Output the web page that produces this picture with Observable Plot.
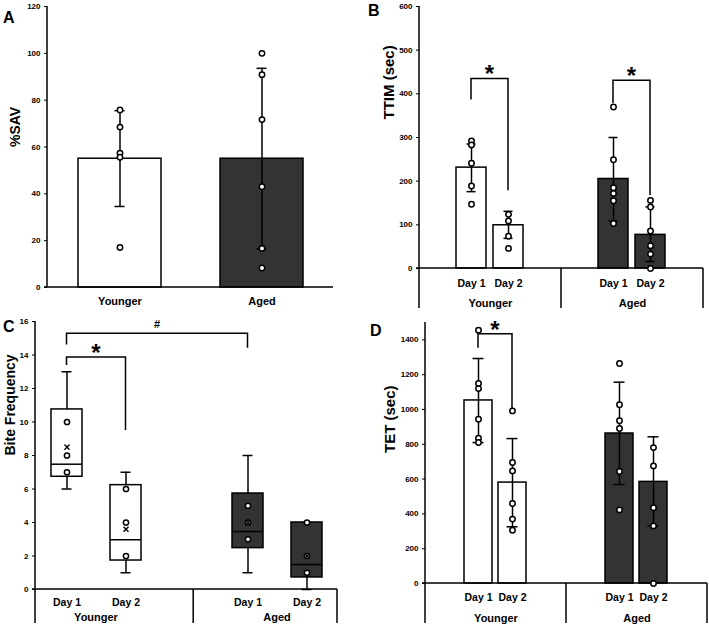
<!DOCTYPE html>
<html>
<head>
<meta charset="utf-8">
<script src="https://cdn.jsdelivr.net/npm/d3@7"></script>
<script src="https://cdn.jsdelivr.net/npm/@observablehq/plot@0.6"></script>
<style>
  body { margin: 0; background: #fff; font-family: "Liberation Sans", Arial, Helvetica, sans-serif; }
  #fig { position: relative; width: 709px; height: 628px; overflow: hidden; background: #fff; }
  .panel { position: absolute; }
  .panel svg { display: block; }
  .letter { position: absolute; font-weight: bold; font-size: 16px; line-height: 1; color: #000; }
</style>
</head>
<body>
<div id="fig"></div>
<script>
// ---------- shared categories ----------
const groups = ["Younger", "Aged"];
const days = ["Day 1", "Day 2"];

// ---------- Panel A: %SAV ----------
const savMean = [55, 55];
const savLow = [34.6, 16.5];
const savHigh = [75.5, 93.6];
const savYounger = [75.8, 68.5, 57.4, 55.6, 17.1];
const savAged = [100, 90.9, 71.7, 43.0, 16.7, 8.3];
const savTicks = [0, 20, 40, 60, 80, 100, 120];

// ---------- Panel B: TTIM (sec) ; order Younger D1, Younger D2, Aged D1, Aged D2 ----------
const ttimMean = [231, 99, 205, 77];
const ttimLow = [176, 69, 109, 16];
const ttimHigh = [285, 131, 300, 141];
const ttimPoints = [
  [292, 283, 241, 189, 147],
  [124, 109, 74, 46],
  [370, 249, 185, 172, 155, 103],
  [156, 141, 86, 52, 33, 0]
];
const ttimTicks = [0, 100, 200, 300, 400, 500, 600];
const ttimBrackets = [
  {from: ["Younger", "Day 1"], to: ["Younger", "Day 2"], leftEnd: 386, top: 434, rightEnd: 178, label: "*"},
  {from: ["Aged", "Day 1"], to: ["Aged", "Day 2"], leftEnd: 378, top: 430, rightEnd: 167, label: "*"}
];

// ---------- Panel C: Bite Frequency (box plots) ----------
const biteMin = [6, 1, 1, 0];
const biteQ1 = [6.73, 1.73, 2.47, 0.72];
const biteMedian = [7.48, 2.97, 3.46, 1.49];
const biteQ3 = [10.75, 6.23, 5.73, 4.0];
const biteMax = [13, 7, 8, 4];
const biteMean = [8.5, 3.6, 4, 2];
const bitePoints = [[10, 8, 7], [6, 4, 2], [5, 4, 3], [4, 2, 1]];
const biteTicks = [0, 2, 4, 6, 8, 10, 12, 14, 16];
const biteBrackets = [
  {from: ["Younger", "Day 1"], to: ["Aged", "Day 1"], leftEnd: 14.6, top: 15.27, rightEnd: 14.4, label: "#"},
  {from: ["Younger", "Day 1"], to: ["Younger", "Day 2"], leftEnd: 13.37, top: 13.85, rightEnd: 9.5, label: "*"}
];

// ---------- Panel D: TET (sec) ----------
const tetMean = [1052, 580, 862, 584];
const tetLow = [810, 326, 569, 331];
const tetHigh = [1293, 833, 1157, 843];
const tetPoints = [
  [1456, 1149, 1120, 944, 835, 810],
  [992, 695, 647, 460, 370, 306],
  [1264, 1027, 935, 891, 644, 423],
  [781, 676, 435, 331, 0]
];
const tetTicks = [0, 200, 400, 600, 800, 1000, 1200, 1400];
const tetBrackets = [
  {from: ["Younger", "Day 1"], to: ["Younger", "Day 2"], leftEnd: 1352, top: 1432, rightEnd: 1000, label: "*"}
];

// ---------- styling ----------
const FONT = '"Liberation Sans", Arial, Helvetica, sans-serif';
const DARK = "#333333";
const labelStyles = {"*": {size: 24, dy: 4}, "#": {size: 11, dy: -5}};

// ---------- helpers ----------
const conds = groups.flatMap(g => days.map(d => ({group: g, day: d})));
const table = (cols) => conds.map((c, i) => {
  const row = {...c};
  for (const [k, arr] of Object.entries(cols)) row[k] = arr[i];
  return row;
});
const pointsOf = (lists) => conds.flatMap((c, i) => lists[i].map(v => ({...c, v})));

// Render-function mark: axis lines, category dividers and significance brackets,
// all positioned through Plot's own x / y / fx scales.
function decor({top, divLen = 0, divFrac = 0.5, brackets = []}) {
  let calls = 0;
  return (index, scales) => {
    const {x, y, fx} = scales;
    const faceted = fx && typeof fx.domain === "function";
    const keys = faceted ? fx.domain() : [null];
    const k = calls++ % keys.length;
    const key = keys[k];
    const shift = f => (faceted && f != null) ? fx(f) - fx(key) : 0;
    const bw = x.bandwidth();
    const cx = (f, c) => x(c) + bw / 2 + shift(f);
    const [L, R] = x.range();
    const gap = faceted ? fx.step() - fx.bandwidth() : 0;
    const left = k === 0 ? L : L - gap * (1 - divFrac);
    const right = k === keys.length - 1 ? R : R + gap * divFrac;
    const y0 = y(0);
    const g = d3.create("svg:g")
      .attr("fill", "none").attr("stroke", "black").attr("stroke-width", 1.5);
    g.append("line").attr("x1", left - (k === 0 ? 3 : 0)).attr("x2", right)
      .attr("y1", y0).attr("y2", y0);
    if (k === 0) {
      g.append("line").attr("x1", L).attr("x2", L)
        .attr("y1", y(top)).attr("y2", y0 + divLen);
    }
    if (divLen > 0) {
      g.append("line").attr("x1", right).attr("x2", right)
        .attr("y1", y0).attr("y2", y0 + divLen);
    }
    for (const b of brackets) {
      if (key !== null && b.from[0] !== key) continue;
      const xa = cx(b.from[0], b.from[1]);
      const xb = cx(b.to[0], b.to[1]);
      g.append("path")
        .attr("d", `M${xa},${y(b.leftEnd)}V${y(b.top)}H${xb}V${y(b.rightEnd)}`);
      const st = labelStyles[b.label];
      g.append("text")
        .attr("x", (xa + xb) / 2).attr("y", y(b.top) + st.dy)
        .attr("fill", "black").attr("stroke", "none")
        .attr("text-anchor", "middle").attr("font-family", FONT)
        .attr("font-weight", "bold").attr("font-size", st.size)
        .text(b.label);
    }
    return g.node();
  };
}

const fig = document.getElementById("fig");
function place(node, left, top) {
  const d = document.createElement("div");
  d.className = "panel";
  d.style.left = left + "px";
  d.style.top = top + "px";
  d.appendChild(node);
  fig.appendChild(d);
}
function letter(txt, left, top) {
  const d = document.createElement("div");
  d.className = "letter";
  d.style.left = left + "px";
  d.style.top = top + "px";
  d.textContent = txt;
  fig.appendChild(d);
}

const baseStyle = {fontFamily: FONT, background: "transparent", overflow: "visible", color: "black"};
const colorScale = {domain: groups, range: ["white", DARK]};
const fmt = d3.format("d");

// ---------- Panel A ----------
{
  const tA = groups.map((g, i) => ({group: g, mean: savMean[i], lo: savLow[i], hi: savHigh[i]}));
  const pA = [
    ...savYounger.map(v => ({group: "Younger", v})),
    ...savAged.map(v => ({group: "Aged", v}))
  ];
  const capInset = 36.5;
  const chart = Plot.plot({
    width: 345, height: 310,
    marginLeft: 47, marginRight: 12, marginTop: 6, marginBottom: 23,
    style: baseStyle,
    x: {domain: groups, paddingInner: 0.418, paddingOuter: 0.2125},
    y: {domain: [0, 120]},
    color: colorScale,
    marks: [
      Plot.barY(tA, {x: "group", y: "mean", fill: "group", stroke: "black", strokeWidth: 1.5}),
      decor({top: 120}),
      Plot.ruleX(tA, {x: "group", y1: "lo", y2: "hi", stroke: "black", strokeWidth: 1.5}),
      Plot.tickY(tA, {x: "group", y: "hi", stroke: "black", strokeWidth: 1.5, insetLeft: capInset, insetRight: capInset}),
      Plot.tickY(tA, {x: "group", y: "lo", stroke: "black", strokeWidth: 1.5, insetLeft: capInset, insetRight: capInset}),
      Plot.dot(pA, {x: "group", y: "v", r: 2.7, fill: "white", stroke: "black", strokeWidth: 1.5}),
      Plot.axisY({ticks: savTicks, tickFormat: fmt, tickSize: 3, tickPadding: 4, fontSize: 8, fontWeight: "bold", label: null}),
      Plot.axisX({tickSize: 0, tickPadding: 10, fontSize: 11, fontWeight: "bold", label: null}),
      Plot.text(["%SAV"], {frameAnchor: "left", rotate: -90, dx: -32, fontSize: 14, fontWeight: "bold", fill: "black"})
    ]
  });
  place(chart, 0, 0);
}

// ---------- bar + dots panel with facets (B and D) ----------
function facetBars({mean, lo, hi, points, ticks, brackets, yMax, title, titleDx, titleDy, titleSize,
                    width, height, margins, xPad, capInset, divLen, dayPad, groupPad}) {
  const t = table({mean, lo, hi});
  const p = pointsOf(points);
  const first = () => groups[0];
  return Plot.plot({
    width, height, ...margins,
    style: baseStyle,
    fx: {domain: groups, paddingInner: 0, paddingOuter: 0},
    x: {domain: days, paddingInner: xPad[0], paddingOuter: xPad[1]},
    y: {domain: [0, yMax]},
    color: colorScale,
    marks: [
      Plot.barY(t, {fx: "group", x: "day", y: "mean", fill: "group", stroke: "black", strokeWidth: 1.5}),
      decor({top: yMax, divLen, brackets}),
      Plot.ruleX(t, {fx: "group", x: "day", y1: "lo", y2: "hi", stroke: "black", strokeWidth: 1.5}),
      Plot.tickY(t, {fx: "group", x: "day", y: "hi", stroke: "black", strokeWidth: 1.5, insetLeft: capInset, insetRight: capInset}),
      Plot.tickY(t, {fx: "group", x: "day", y: "lo", stroke: "black", strokeWidth: 1.5, insetLeft: capInset, insetRight: capInset}),
      Plot.dot(p, {fx: "group", x: "day", y: "v", r: 2.7, fill: "white", stroke: "black", strokeWidth: 1.5}),
      Plot.axisY({ticks, tickFormat: fmt, tickSize: 3, tickPadding: 4, fontSize: 8, fontWeight: "bold", label: null}),
      Plot.axisX({tickSize: 0, tickPadding: dayPad, fontSize: 10.5, fontWeight: "bold", label: null}),
      Plot.axisFx({anchor: "bottom", tickSize: 0, tickPadding: groupPad, fontSize: 11, fontWeight: "bold", label: null}),
      Plot.text([title], {fx: first, frameAnchor: "left", rotate: -90, dx: titleDx, dy: titleDy, fontSize: titleSize, fontWeight: "bold", fill: "black"})
    ]
  });
}

place(facetBars({
  mean: ttimMean, lo: ttimLow, hi: ttimHigh, points: ttimPoints, ticks: ttimTicks,
  brackets: ttimBrackets, yMax: 600, title: "TTIM (sec)", titleDx: -30, titleDy: -18, titleSize: 15,
  width: 354, height: 315, margins: {marginLeft: 63, marginRight: 6, marginTop: 6, marginBottom: 47},
  xPad: [0.184, 0.967], capInset: 10.5, divLen: 40, dayPad: 11, groupPad: 31
}), 355, 0);

place(facetBars({
  mean: tetMean, lo: tetLow, hi: tetHigh, points: tetPoints, ticks: tetTicks,
  brackets: tetBrackets, yMax: 1500, title: "TET (sec)", titleDx: -35, titleDy: 0, titleSize: 15,
  width: 354, height: 313, margins: {marginLeft: 69, marginRight: 2, marginTop: 7, marginBottom: 45},
  xPad: [0.171, 1.107], capInset: 8.5, divLen: 40, dayPad: 10, groupPad: 31
}), 355, 315);

// ---------- Panel C: box plots ----------
{
  const t = table({min: biteMin, q1: biteQ1, median: biteMedian, q3: biteQ3, max: biteMax, mean: biteMean});
  const p = pointsOf(bitePoints);
  const capInset = 10.5;
  const first = () => groups[0];
  const chart = Plot.plot({
    width: 345, height: 313,
    marginLeft: 34, marginRight: 8, marginTop: 6, marginBottom: 39,
    style: baseStyle,
    fx: {domain: groups, paddingInner: 0.333, paddingOuter: 0},
    x: {domain: days, paddingInner: 0.483, paddingOuter: 0.252},
    y: {domain: [0, 16]},
    color: colorScale,
    marks: [
      Plot.ruleX(t, {fx: "group", x: "day", y1: "min", y2: "max", stroke: "black", strokeWidth: 1.5}),
      Plot.tickY(t, {fx: "group", x: "day", y: "max", stroke: "black", strokeWidth: 1.5, insetLeft: capInset, insetRight: capInset}),
      Plot.tickY(t, {fx: "group", x: "day", y: "min", stroke: "black", strokeWidth: 1.5, insetLeft: capInset, insetRight: capInset}),
      Plot.barY(t, {fx: "group", x: "day", y1: "q1", y2: "q3", fill: "group", stroke: "black", strokeWidth: 1.5}),
      Plot.tickY(t, {fx: "group", x: "day", y: "median", stroke: "black", strokeWidth: 1.5}),
      decor({top: 16, divLen: 34, divFrac: 0.62, brackets: biteBrackets}),
      Plot.dot(p, {fx: "group", x: "day", y: "v", r: 2.6, fill: "white", stroke: "black", strokeWidth: 1.5}),
      Plot.dot(t, {fx: "group", x: "day", y: "mean", symbol: "times", r: 2.4, stroke: "black", strokeWidth: 1.4}),
      Plot.axisY({ticks: biteTicks, tickFormat: fmt, tickSize: 3, tickPadding: 4, fontSize: 8, fontWeight: "bold", label: null}),
      Plot.axisX({tickSize: 0, tickPadding: 9, fontSize: 10.5, fontWeight: "bold", label: null}),
      Plot.axisFx({anchor: "bottom", tickSize: 0, tickPadding: 24, fontSize: 11, fontWeight: "bold", label: null}),
      Plot.text(["Bite Frequency"], {fx: first, frameAnchor: "left", rotate: -90, dx: -25, fontSize: 14, fontWeight: "bold", fill: "black"})
    ]
  });
  place(chart, 0, 315);
}

// ---------- panel letters ----------
letter("A", 3, 10);
letter("B", 368, 3);
letter("C", 3, 319);
letter("D", 370, 323);
</script>
</body>
</html>
